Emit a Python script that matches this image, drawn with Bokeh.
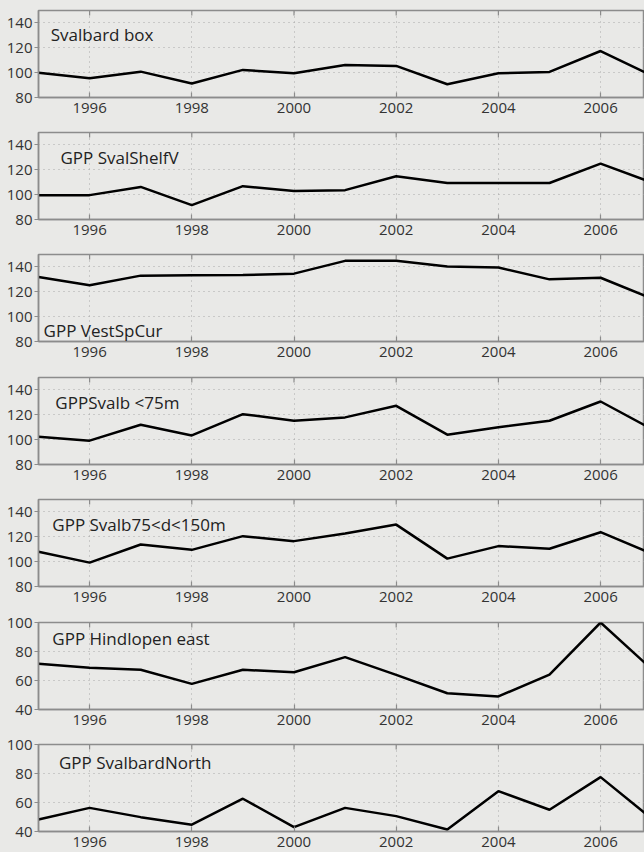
from bokeh.plotting import figure
from bokeh.layouts import column
from bokeh.models import Range1d, FixedTicker, Label, GlobalInlineStyleSheet
from bokeh.embed import file_html
from bokeh.resources import INLINE

years = [1995, 1996, 1997, 1998, 1999, 2000, 2001, 2002, 2003, 2004, 2005, 2006, 2007]

svalbard_box = [100.0, 95.5, 100.8, 91.2, 102.2, 99.5, 106.2, 105.4, 90.7, 99.5, 100.6, 117.4, 97.7]
gpp_svalshelfv = [99.6, 99.6, 106.2, 91.6, 106.8, 103.0, 103.6, 114.8, 109.4, 109.4, 109.4, 125.0, 109.8]
gpp_vestspcur = [131.9, 125.2, 133.0, 133.3, 133.5, 134.6, 144.9, 144.9, 140.3, 139.5, 130.0, 131.3, 114.6]
gpp_svalb_lt75 = [102.4, 99.2, 112.0, 103.4, 120.5, 115.2, 117.9, 127.2, 104.0, 109.9, 115.2, 130.7, 108.6]
gpp_svalb_75_150 = [108.0, 99.2, 113.8, 109.5, 120.5, 116.5, 122.6, 129.8, 102.4, 112.5, 110.4, 123.7, 106.5]
gpp_hindlopen_east = [71.5, 68.8, 67.4, 57.7, 67.4, 65.7, 76.1, 63.9, 51.2, 49.0, 64.1, 100.0, 67.8]
gpp_svalbardnorth = [48.3, 56.3, 49.9, 44.7, 62.6, 43.0, 56.3, 50.6, 41.4, 67.8, 55.0, 77.5, 48.8]

titles = ["Svalbard box", "GPP SvalShelfV", "GPP VestSpCur", "GPPSvalb <75m",
          "GPP Svalb75<d<150m", "GPP Hindlopen east", "GPP SvalbardNorth"]
series = [svalbard_box, gpp_svalshelfv, gpp_vestspcur, gpp_svalb_lt75,
          gpp_svalb_75_150, gpp_hindlopen_east, gpp_svalbardnorth]
y_ranges = [(80, 150)] * 5 + [(40, 100)] * 2
y_ticks = [[80, 100, 120, 140]] * 5 + [[40, 60, 80, 100]] * 2
x_ticks = [1996, 1998, 2000, 2002, 2004, 2006]
label_x = [1995.24, 1995.43, 1995.10, 1995.33, 1995.27, 1995.27, 1995.40]
label_y = [131.0, 130.0, 89.0, 129.8, 129.8, 88.8, 87.8]

# layout (pixels): per-panel top / bottom borders around an 87px frame
border_top = [10, 9, 9, 9, 9, 9, 9]
border_bottom = [26, 26, 27, 26, 27, 26, 21]

BG = "#e9e9e7"
FRAME = "#8c8c8c"
FONT = "Open Sans"
FRAME_H = 87
FRAME_W = 606

figs = []
for i in range(7):
    y0, y1 = y_ranges[i]
    p = figure(frame_width=FRAME_W, frame_height=FRAME_H,
               x_range=Range1d(1995, 1995 + FRAME_W / 51.1), y_range=Range1d(y0, y1),
               output_backend="svg", toolbar_location=None,
               background_fill_color=BG, border_fill_color=BG,
               min_border_left=38, min_border_right=0,
               min_border_top=border_top[i], min_border_bottom=border_bottom[i])
    p.outline_line_color = FRAME
    p.outline_line_width = 1.5

    xa = p.xaxis[0]
    xa.ticker = FixedTicker(ticks=x_ticks)
    xa.major_tick_in = 5
    xa.major_tick_out = 0
    xa.minor_tick_line_color = None
    xa.axis_line_color = FRAME
    xa.axis_line_width = 1.5
    xa.major_tick_line_color = FRAME
    xa.major_tick_line_width = 1.2
    xa.major_label_standoff = 5
    xa.major_label_text_font = FONT
    xa.major_label_text_font_size = "15px"
    xa.major_label_text_color = "#333333"

    ya = p.yaxis[0]
    ya.ticker = FixedTicker(ticks=y_ticks[i])
    ya.major_tick_in = 0
    ya.major_tick_out = 4
    ya.minor_tick_line_color = None
    ya.axis_line_color = FRAME
    ya.axis_line_width = 1.5
    ya.major_tick_line_color = FRAME
    ya.major_tick_line_width = 1.2
    ya.major_label_standoff = 2
    ya.major_label_text_font = FONT
    ya.major_label_text_font_size = "15px"
    ya.major_label_text_color = "#333333"

    p.xgrid.ticker = FixedTicker(ticks=x_ticks)
    p.ygrid.ticker = FixedTicker(ticks=y_ticks[i])
    for g in (p.xgrid[0], p.ygrid[0]):
        g.grid_line_color = "#a8a8a8"
        g.grid_line_dash = "1 4"
        g.grid_line_width = 1

    # inward tick marks on the top edge of the frame
    tick_len = 5 * (y1 - y0) / FRAME_H
    p.segment(x0=x_ticks, x1=x_ticks, y0=[y1] * len(x_ticks), y1=[y1 - tick_len] * len(x_ticks),
              line_color=FRAME, line_width=1.2)

    p.line(years, series[i], line_color="black", line_width=2.5)

    p.add_layout(Label(x=label_x[i], y=label_y[i], text=titles[i],
                       text_font=FONT, text_font_size="17px", text_color="#222222",
                       text_baseline="middle", text_align="left"))
    figs.append(p)

layout = column(*figs, spacing=0,
                stylesheets=[GlobalInlineStyleSheet(
                    css="html,body{background:#e9e9e7;margin:0;padding:0;overflow:hidden;}")])

open("out.html", "w").write(file_html(layout, INLINE))
